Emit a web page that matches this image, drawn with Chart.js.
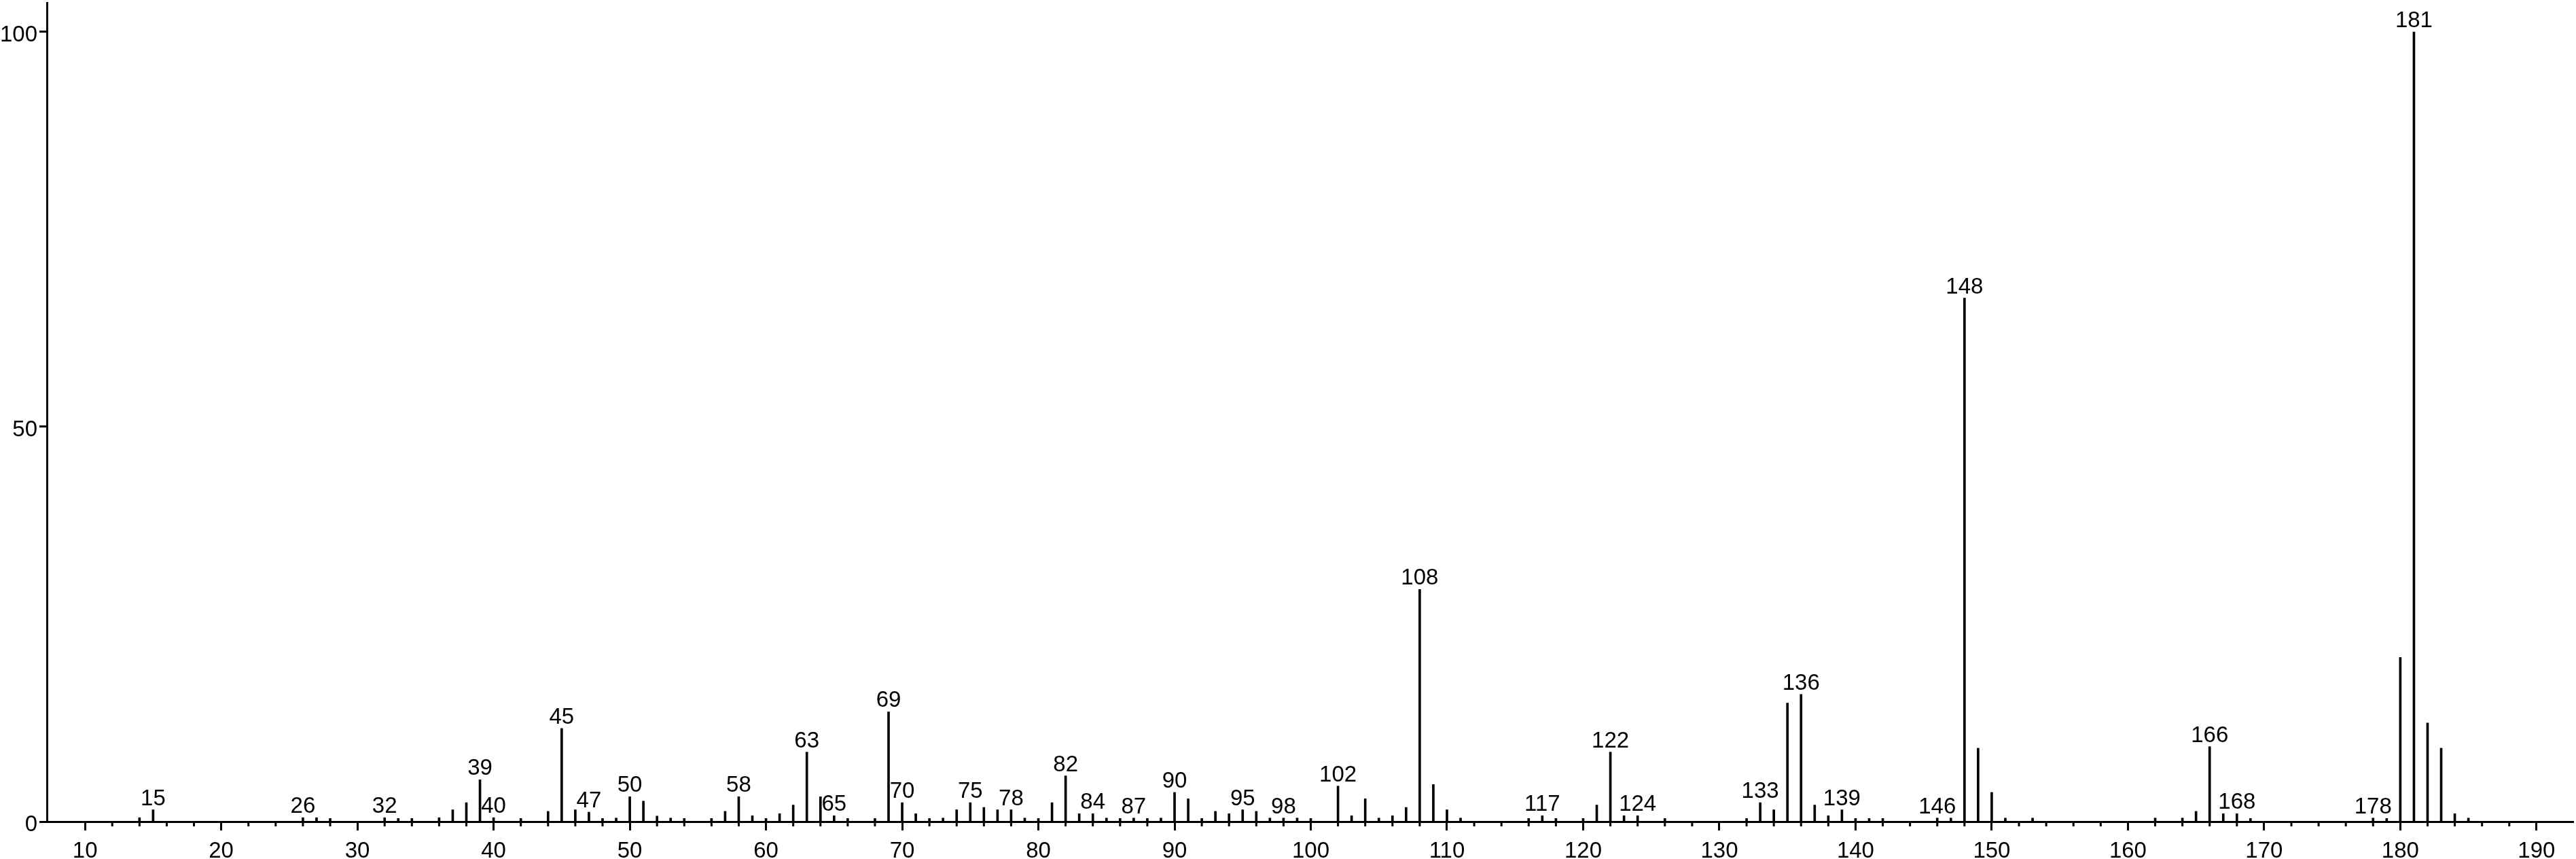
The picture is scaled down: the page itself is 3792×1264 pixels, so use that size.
<!DOCTYPE html>
<html>
<head>
<meta charset="utf-8">
<script src="https://cdn.jsdelivr.net/npm/chart.js@4.4.1/dist/chart.umd.min.js"></script>
<style>
  html, body { margin: 0; padding: 0; background: #fff; }
  #wrap { width: 3792px; height: 1264px; }
</style>
</head>
<body>
<div id="wrap"><canvas id="ms-chart" width="3792" height="1264"></canvas></div>
<script>
// Spectrum data (m/z and relative intensity) ====================
const masses = [
  14, 15, 26, 27, 28, 32, 33, 34, 36, 37, 38, 39, 40, 42, 44, 45, 46, 47, 48, 49,
  50, 51, 52, 53, 54, 56, 57, 58, 59, 60, 61, 62, 63, 64, 65, 66, 68, 69, 70, 71,
  72, 73, 74, 75, 76, 77, 78, 79, 80, 81, 82, 83, 84, 85, 86, 87, 88, 89, 90, 91,
  92, 93, 94, 95, 96, 97, 98, 99, 100, 102, 103, 104, 105, 106, 107, 108, 109, 110, 111, 116,
  117, 118, 120, 121, 122, 123, 124, 126, 132, 133, 134, 135, 136, 137, 138, 139, 140, 141, 142, 146,
  147, 148, 149, 150, 151, 153, 162, 164, 165, 166, 167, 168, 169, 178, 179, 180, 181, 182, 183, 184,
  185
];
const intensities = [
  0.5, 1.5, 0.5, 0.5, 0.4, 0.5, 0.4, 0.4, 0.5, 1.5, 2.4, 5.3, 0.5, 0.4, 1.3, 11.8, 1.5, 1.2, 0.4, 0.45,
  3.15, 2.6, 0.7, 0.45, 0.4, 0.4, 1.3, 3.15, 0.75, 0.4, 1.0, 2.1, 8.8, 3.15, 0.75, 0.4, 0.4, 13.9, 2.4, 1.0,
  0.4, 0.45, 1.5, 2.4, 1.8, 1.5, 1.5, 0.45, 0.4, 2.4, 5.8, 1.0, 1.0, 0.45, 0.4, 0.45, 0.4, 0.45, 3.7, 2.9,
  0.4, 1.3, 1.0, 1.5, 1.3, 0.45, 0.45, 0.45, 0.4, 4.5, 0.75, 2.9, 0.45, 0.75, 1.8, 29.4, 4.7, 1.5, 0.45, 0.4,
  0.75, 0.4, 0.4, 2.1, 8.8, 0.75, 0.75, 0.4, 0.4, 2.4, 1.5, 15.0, 16.1, 2.1, 0.75, 1.5, 0.4, 0.4, 0.4, 0.45,
  0.45, 66.3, 9.3, 3.7, 0.45, 0.45, 0.45, 0.45, 1.3, 9.5, 1.0, 1.0, 0.4, 0.45, 0.4, 20.8, 100, 12.5, 9.3, 1.0,
  0.45
];
// peaks that carry their m/z as a label
const labelledMasses = [
  15, 26, 32, 39, 40, 45, 47, 50, 58, 63, 65, 69, 70, 75, 78, 82, 84, 87, 90, 95,
  98, 102, 108, 117, 122, 124, 133, 136, 139, 146, 148, 166, 168, 178, 181
];

// Axis ticks ======================================
const xLabelTicks = [10, 20, 30, 40, 50, 60, 70, 80, 90, 100, 110, 120, 130, 140, 150, 160, 170, 180, 190];
const yTicks = [0, 50, 100];
const xTickValues = [];
for (let v = 10; v <= 190; v += 2) xTickValues.push(v);

const FONT = "'Liberation Sans', Arial, sans-serif";
Chart.defaults.font.family = FONT;
Chart.defaults.font.size = 33;
Chart.defaults.color = "#000";

// Peak labels plugin ===============================
const peakLabels = {
  id: "peakLabels",
  afterDatasetsDraw(chart) {
    const { ctx } = chart;
    const meta = chart.getDatasetMeta(0);
    ctx.save();
    ctx.font = "33px " + FONT;
    ctx.fillStyle = "#000";
    ctx.textAlign = "center";
    ctx.textBaseline = "alphabetic";
    masses.forEach((m, i) => {
      if (!labelledMasses.includes(m)) return;
      const bar = meta.data[i];
      ctx.fillText(String(m), bar.x, bar.y - 7);
    });
    ctx.restore();
  },
};

// short ticks every 2 units, below the axis
const minorTicks = {
  id: "minorTicks",
  afterDraw(chart) {
    const {
      ctx,
      scales: { x },
      chartArea: { bottom },
    } = chart;
    ctx.save();
    ctx.strokeStyle = "#000";
    ctx.lineWidth = 3;
    x.ticks.forEach((t) => {
      if (xLabelTicks.includes(t.value)) return;
      const px = x.getPixelForValue(t.value);
      ctx.beginPath();
      ctx.moveTo(px, bottom);
      ctx.lineTo(px, bottom + 7);
      ctx.stroke();
    });
    ctx.restore();
  },
};

const spectrum = {
  type: "bar",
  data: {
    datasets: [
      {
        data: masses.map((m, i) => ({ x: m, y: intensities[i] })),
        backgroundColor: "#000",
        borderWidth: 0,
        barThickness: 3,
      },
    ],
  },
  options: {
    responsive: false,
    animation: false,
    devicePixelRatio: 1,
    layout: { padding: { top: 4, right: 4, left: 0, bottom: 0 } },
    plugins: {
      legend: { display: false },
      tooltip: { enabled: false },
    },
    scales: {
      x: {
        type: "linear",
        min: 7.2,
        max: 192.7,
        offset: false,
        afterFit(scale) {
          scale.height = 55;
          scale.paddingLeft = 0;
          scale.paddingRight = 0;
        },
        afterBuildTicks(scale) {
          scale.ticks = xTickValues.map((v) => ({ value: v }));
        },
        grid: {
          drawOnChartArea: false,
          offset: false,
          tickLength: 13,
          tickWidth: 3,
          tickColor: (c) =>
            c.tick && xLabelTicks.includes(c.tick.value) ? "#000" : "rgba(0,0,0,0)",
        },
        border: { color: "#000", width: 3 },
        ticks: {
          autoSkip: false,
          maxRotation: 0,
          padding: 11,
          color: "#000",
          callback: (v) => (xLabelTicks.includes(v) ? String(v) : ""),
        },
      },
      y: {
        min: 0,
        max: 103.7,
        afterFit(scale) {
          scale.width = 69;
          scale.paddingTop = 0;
          scale.paddingBottom = 0;
        },
        afterBuildTicks(scale) {
          scale.ticks = yTicks.map((v) => ({ value: v }));
        },
        grid: {
          drawOnChartArea: false,
          tickLength: 11,
          tickWidth: 3,
          tickColor: "#000",
        },
        border: { color: "#000", width: 3 },
        ticks: { padding: 3, labelOffset: 5, color: "#000" },
      },
    },
  },
  plugins: [peakLabels, minorTicks],
};

new Chart(document.getElementById("ms-chart"), spectrum);
</script>
</body>
</html>
